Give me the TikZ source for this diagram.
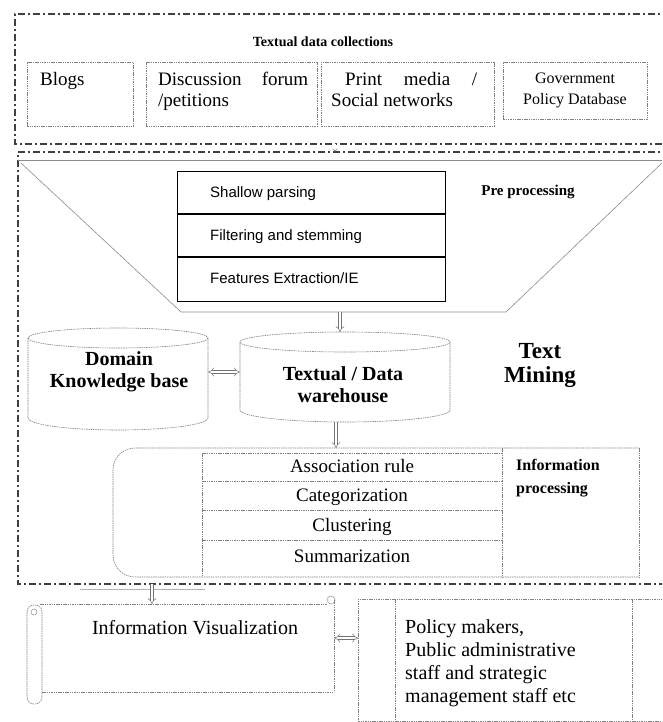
\documentclass[tikz,border=0pt]{standalone}
\usepackage{fontspec}
\setmainfont{Liberation Serif}
\newfontfamily\arialf{Liberation Sans}
\usetikzlibrary{arrows.meta}
\begin{document}
\begin{tikzpicture}[x=1pt,y=-1pt,
  ddot/.style={draw=black!75,line width=1.1pt,dash pattern=on 7pt off 3pt on 2pt off 3pt},
  gline/.style={draw=black!45,line width=0.6pt},
  dline/.style={draw=black!50,line width=0.6pt,dash pattern=on 1.5pt off 0.8pt},
  srcbox/.style={dline,inner sep=0,anchor=north west},
  harrow/.style={draw=black!55,double=white,double distance=2.6pt,line width=0.5pt,-{Implies}},
  hharrow/.style={draw=black!55,double=white,double distance=2.6pt,line width=0.5pt,{Implies}-{Implies}},
  txt/.style={inner sep=0,font=\fontsize{19}{21}\selectfont},
  bigtxt/.style={inner sep=0,font=\fontsize{20}{23}\selectfont},
  bx/.style={inner sep=0,font=\bfseries\fontsize{20}{22}\selectfont,align=center},
  ppt/.style={inner sep=0,anchor=base west,font=\arialf\fontsize{15}{17}\selectfont},
]
\useasboundingbox (0,0) rectangle (662,722);
\clip (0,0) rectangle (662,722);
\fill[white] (0,0) rectangle (662,722);

% ---------- textual data collections ----------
\draw[ddot] (670,14) -- (15,14) -- (15,144) -- (670,144);
\node[inner sep=0,font=\bfseries\fontsize{14}{16}\selectfont] (title) at (323,42) {Textual data collections};

\node[srcbox,minimum width=106pt,minimum height=64pt] (blogs) at (27,62) {};
\node[txt,anchor=base west] (tblogs) at (40,86) {Blogs};

\node[srcbox,minimum width=171pt,minimum height=64pt] (disc) at (146,62) {};
\node[txt,anchor=base west] (tdisc1) at (158,86) {\hbox to 150pt{Discussion\hfill forum}};
\node[txt,anchor=base west] (tdisc2) at (158,107) {/petitions};

\node[srcbox,minimum width=173pt,minimum height=64pt] (print) at (321,62) {};
\node[txt,anchor=base west] (tprint1) at (345,86) {\hbox to 132pt{Print\hfill media\hfill /}};
\node[txt,anchor=base west] (tprint2) at (331,107) {Social networks};

\node[srcbox,minimum width=144pt,minimum height=57pt] (gov) at (503,62) {};
\node[inner sep=0,font=\fontsize{16}{21}\selectfont,align=center] (tgov) at (575,90) {Government\\Policy Database};

% ---------- text mining box ----------
\draw[ddot] (670,152) -- (18,152) -- (18,584) -- (670,584);
\coordinate (topS) at (335,144);
\coordinate (tmN) at (335,152);
\draw[draw=black!60,double=white,double distance=1.2pt,line width=0.4pt,-{Implies}] (topS) -- (tmN);

% funnel
\draw[gline] (18,160) -- (670,160);
\draw[gline] (21,163) -- (181,312) -- (506,312) -- (662,163);

% preprocessing table
\node[draw,line width=1.2pt,inner sep=0,anchor=north west,minimum width=268pt,minimum height=130pt] (pp) at (177,171) {};
\draw[line width=1.2pt] (177,214) -- (445,214) (177,257) -- (445,257);
\node[ppt] (p1) at (210,197) {Shallow parsing};
\node[ppt] (p2) at (210,240) {Filtering and stemming};
\node[ppt] (p3) at (210,283) {Features Extraction/IE};
\node[inner sep=0,font=\bfseries\fontsize{15}{17}\selectfont] (pre) at (528,192) {Pre processing};

% cylinders
\draw[dline] (28,338) -- (28,418) arc (180:0:90 and 12) -- (208,338);
\draw[dline] (118,338) ellipse (90 and 10);
\node[inner sep=0,minimum width=180pt,minimum height=102pt] (dkb) at (118,379) {};
\node[bx] (tdkb) at (119,372) {Domain\\Knowledge base};

\draw[dline] (240,342) -- (240,410) arc (180:0:105 and 12) -- (450,342);
\draw[dline] (345,342) ellipse (105 and 10);
\node[inner sep=0,minimum width=210pt,minimum height=90pt] (dw) at (345,377) {};
\node[bx] (tdw) at (343,385) {Textual / Data\\warehouse};

\node[inner sep=0,font=\bfseries\fontsize{23}{24}\selectfont,align=center] (tm) at (540,366) {Text\\Mining};

\coordinate (ppS) at (340,312);
\coordinate (dwN) at (340,332);
\draw[harrow] (ppS) -- (dwN);
\draw[hharrow] (dkb.east |- 0,372) -- (dw.west |- 0,372);

% information processing
\node[inner sep=0,anchor=north west,minimum width=526pt,minimum height=129pt] (ip) at (113,448) {};
\draw[dline,rounded corners=22pt] (639,448) -- (113,448) -- (113,577) -- (639,577);
\draw[dline] (639,448) -- (639,577);
\draw[dline] (202,453) -- (502,453) (202,453) -- (202,577) (502,448) -- (502,577);
\draw[dline] (202,481) -- (502,481) (202,510) -- (502,510) (202,540) -- (502,540);
\node[txt,anchor=base] (r1) at (352,472) {Association rule};
\node[txt,anchor=base] (r2) at (352,501) {Categorization};
\node[txt,anchor=base] (r3) at (352,531) {Clustering};
\node[txt,anchor=base] (r4) at (352,562) {Summarization};
\node[inner sep=0,anchor=north west,font=\bfseries\fontsize{16}{23}\selectfont,align=left] (tip) at (516,459) {Information\\processing};

\coordinate (dwS) at (336,422);
\draw[harrow] (dwS) -- (ip.north -| dwS);

% information visualization (scroll)
\draw[gline,black!30] (80,589) -- (205,589);
\node[inner sep=0,anchor=north west,minimum width=307pt,minimum height=100pt] (iv) at (27,604) {};
\coordinate (tmS) at (152,584);
\draw[harrow] (tmS) -- (iv.north -| tmS);
\draw[dline] (40,604) -- (327,604) (334,600) -- (334,692) (42,692) -- (334,692);
\draw[dline,rounded corners=7pt] (27,605) rectangle (42,704);
\draw[dline] (331,600) circle (4);
\draw[dline] (34,612) circle (3);
\node[bigtxt,anchor=base] (tiv) at (195,634) {Information Visualization};

% policy makers
\node[dline,inner sep=0,anchor=north west,minimum width=320pt,minimum height=122pt] (pm) at (358,599) {};
\draw[dline] (395,599) -- (395,721) (632,599) -- (632,721);
\node[bigtxt,anchor=north west,align=left] (tpm) at (405,619) {Policy makers,\\Public administrative\\staff and strategic\\management staff etc};

\draw[hharrow] (iv.east |- 0,638) -- (pm.west |- 0,638);
\end{tikzpicture}
\end{document}
